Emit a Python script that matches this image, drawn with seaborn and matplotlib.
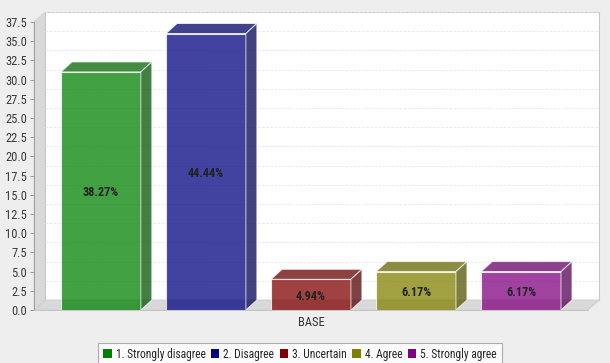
import matplotlib
matplotlib.use("Agg")
import matplotlib.pyplot as plt
import seaborn as sns
import pandas as pd
import numpy as np
from matplotlib.patches import Polygon, Rectangle, Patch
from matplotlib import font_manager

responses = ["1. Strongly disagree", "2. Disagree", "3. Uncertain", "4. Agree", "5. Strongly agree"]
counts = [31, 36, 4, 5, 5]
group = ["BASE"] * 5
colors = ["#008000", "#000080", "#800000", "#808000", "#800080"]
yticks = [0.0, 2.5, 5.0, 7.5, 10.0, 12.5, 15.0, 17.5, 20.0, 22.5, 25.0, 27.5, 30.0, 32.5, 35.0, 37.5]

sns.set_style("white")
names = {f.name for f in font_manager.fontManager.ttflist}
fam = next((n for n in ["Liberation Sans Narrow", "Roboto Condensed", "Lato", "Roboto"] if n in names), "DejaVu Sans")
plt.rcParams["font.family"] = [fam, "DejaVu Sans"]

W, H = 610, 363
fig = plt.figure(figsize=(W / 100, H / 100), dpi=100)
fig.patch.set_facecolor("#eeeeee")
L, R, B, T = 34, 588, 310, 22
ax = fig.add_axes([L / W, 1 - B / H, (R - L) / W, (B - T) / H])
ax.set_facecolor("none")

ymax = 37.5
ax.set_ylim(0, ymax)
ax.set_xlim(-0.5, 0.5)
dxa, dya = 11 / (R - L), 10 / (B - T)

# 3D walls
wall_c = "#d9d9d9"
ax.add_patch(Rectangle((dxa, dya), 1, 1, transform=ax.transAxes, facecolor="white",
                       edgecolor="#c8c8c8", lw=0.8, clip_on=False, zorder=0.2))
ax.add_patch(Polygon([(0, 0), (dxa, dya), (dxa, 1 + dya), (0, 1)], closed=True, transform=ax.transAxes,
                     facecolor=wall_c, edgecolor="#d0d0d0", lw=0.5, clip_on=False, zorder=0.3))
ax.add_patch(Polygon([(0, 0), (1, 0), (1 + dxa, dya), (dxa, dya)], closed=True, transform=ax.transAxes,
                     facecolor=wall_c, edgecolor="#c8c8c8", lw=0.5, clip_on=False, zorder=0.3))
for v in yticks[1:]:
    yv = v / ymax + dya
    ax.plot([dxa, 1 + dxa], [yv, yv], transform=ax.transAxes, color="#e4e4e4", lw=0.6,
            ls=(0, (3, 2)), clip_on=False, zorder=0.4)

df = pd.DataFrame({"group": group, "response": responses, "count": counts})
alpha = 0.74
sns.barplot(data=df, x="group", y="count", hue="response", hue_order=responses,
            palette=colors, saturation=1, width=0.948, gap=0.24, alpha=alpha,
            edgecolor=(1, 1, 1, 0.45), linewidth=0.8, legend=False, ax=ax, zorder=2)

dxd = dxa * 1.0
dyd = dya * ymax
total = sum(counts)
bars = [p for p in ax.patches if isinstance(p, Rectangle) and p.get_zorder() == 2]
for p, c, n in zip(bars, colors, counts):
    x0 = p.get_x(); w = p.get_width(); h = p.get_height(); x1 = x0 + w
    rgb = np.array(matplotlib.colors.to_rgb(c))
    top_c = tuple(rgb * 0.8)
    side_c = tuple(rgb * 0.65)
    ax.add_patch(Polygon([(x0, h), (x1, h), (x1 + dxd, h + dyd), (x0 + dxd, h + dyd)], closed=True,
                         facecolor=top_c, alpha=alpha, edgecolor=(1, 1, 1, 0.5), lw=0.7,
                         clip_on=False, zorder=2.1))
    ax.add_patch(Polygon([(x1, 0), (x1 + dxd, dyd), (x1 + dxd, h + dyd), (x1, h)], closed=True,
                         facecolor=side_c, alpha=alpha, edgecolor=(1, 1, 1, 0.5), lw=0.7,
                         clip_on=False, zorder=2.1))
    ax.text(x0 + w / 2, h / 2 - 0.2, f"{n / total * 100:.2f}%", ha="center", va="center",
            fontsize=8.8, fontweight="bold", color="#222222", zorder=3)

ax.set_yticks(yticks)
ax.set_yticklabels([f"{v:.1f}" for v in yticks])
ax.tick_params(axis="y", length=3, width=0.6, color="#888888", labelsize=9, labelcolor="#3a3a3a", pad=2, left=True)
ax.tick_params(axis="x", length=0, labelsize=9, labelcolor="#333333", pad=4)
ax.set_xlabel("")
ax.set_ylabel("")
for s in ["top", "right"]:
    ax.spines[s].set_visible(False)
ax.spines["left"].set_color("#999999")
ax.spines["left"].set_linewidth(0.6)
ax.spines["bottom"].set_color("#c0c0c0")
ax.spines["bottom"].set_linewidth(0.6)

handles = [Patch(facecolor=c, edgecolor="none") for c in colors]
leg = fig.legend(handles, responses, loc="upper center", bbox_to_anchor=(300 / W, 1 - 343 / H),
                 ncol=5, fontsize=8.3, frameon=True, fancybox=False, handlelength=0.75,
                 handleheight=0.75, handletextpad=0.35, columnspacing=0.45, borderpad=0.4,
                 borderaxespad=0)
leg.get_frame().set_edgecolor("#999999")
leg.get_frame().set_facecolor("white")
leg.get_frame().set_linewidth(0.8)

fig.savefig("out.png", dpi=100, facecolor=fig.get_facecolor())
